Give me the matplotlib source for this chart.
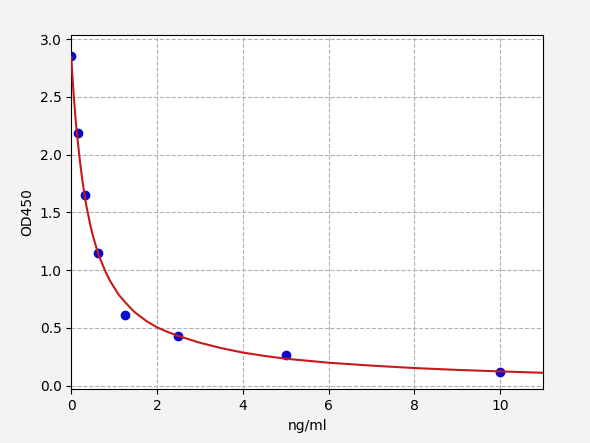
import matplotlib
matplotlib.use("Agg")
import matplotlib.pyplot as plt

# standard points (ng/ml vs OD450)
conc = [0.0, 0.156, 0.3125, 0.625, 1.25, 2.5, 5.0, 10.0]
od = [2.85, 2.19, 1.65, 1.15, 0.61, 0.43, 0.27, 0.12]

# fitted curve
fit_x = [0.0, 0.025, 0.05, 0.075, 0.1, 0.125, 0.156, 0.2, 0.25, 0.3125, 0.35,
         0.4, 0.45, 0.5, 0.55, 0.625, 0.7, 0.75, 0.8, 0.9, 1.0, 1.1, 1.25,
         1.4, 1.5, 1.75, 2.0, 2.25, 2.5, 3.0, 3.5, 4.0, 4.5, 5.0, 6.0, 7.0,
         8.0, 9.0, 10.0, 11.0]
fit_y = [2.84, 2.69, 2.55, 2.43, 2.31, 2.21, 2.10, 1.95, 1.80, 1.645, 1.56,
         1.47, 1.38, 1.305, 1.24, 1.145, 1.075, 1.03, 0.985, 0.91, 0.85,
         0.79, 0.725, 0.665, 0.63, 0.56, 0.505, 0.465, 0.43, 0.372, 0.325,
         0.287, 0.258, 0.234, 0.199, 0.174, 0.153, 0.137, 0.124, 0.112]

xticks = [0, 2, 4, 6, 8, 10]
yticks = [0.0, 0.5, 1.0, 1.5, 2.0, 2.5, 3.0]

fig = plt.figure(figsize=(5.9, 4.43), dpi=100, facecolor="#f3f3f3")
ax = fig.add_axes([0.1208, 0.1212, 0.7995, 0.7991])
ax.set_facecolor("white")

ax.plot(conc, od, "o", color="#0a0acc", ms=6, zorder=3)
ax.plot(fit_x, fit_y, "-", color="#c41a1a", lw=1.5, zorder=4)

ax.set_xlim(0, 11)
ax.set_ylim(-0.031, 3.032)
ax.set_xticks(xticks)
ax.set_yticks(yticks)
ax.set_xlabel("ng/ml")
ax.set_ylabel("OD450")
ax.grid(True, ls="--", color="#b0b0b0", lw=0.8)
ax.set_axisbelow(True)

fig.savefig("out.png", dpi=100, facecolor=fig.get_facecolor())
